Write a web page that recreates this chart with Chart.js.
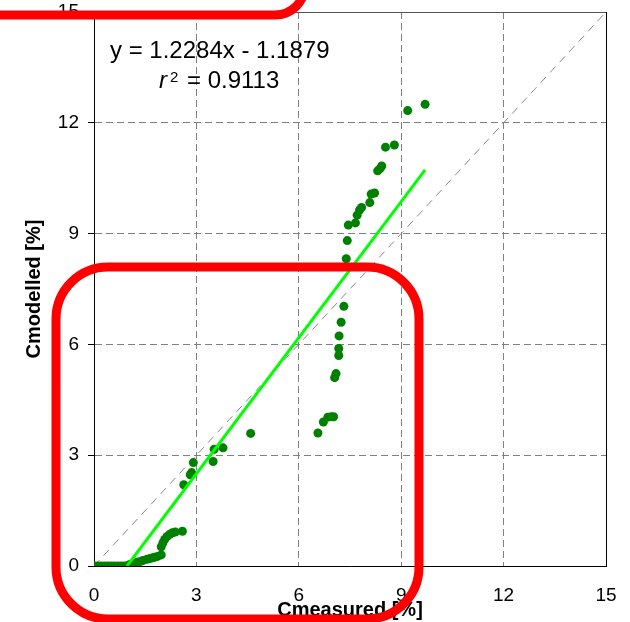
<!DOCTYPE html>
<html>
<head>
<meta charset="utf-8">
<script src="https://cdn.jsdelivr.net/npm/chart.js@4"></script>
<style>
    html, body { margin: 0; padding: 0; background: #fff; }
    #wrap { width: 630px; height: 622px; }
</style>
</head>
<body>
<div id="wrap"><canvas id="chart" width="630" height="622"></canvas></div>
<script>
// measured vs modelled concentration [%]
var measured = [
    0, 0.1, 0.2, 0.3, 0.4, 0.5, 0.6, 0.7, 0.8, 0.9, 1.0,
    1.05, 1.15, 1.26, 1.35, 1.43, 1.55, 1.64, 1.72, 1.78, 1.86, 1.97,
    1.97, 2.02, 2.07, 2.14, 2.22, 2.3, 2.38, 2.59,
    2.63, 2.82, 2.86, 2.91, 3.49, 3.52, 3.78, 4.59,
    6.56, 6.72, 6.85, 6.95, 7.02, 7.05, 7.09, 7.17, 7.17, 7.18, 7.24, 7.32,
    7.39, 7.42, 7.45, 7.66, 7.71, 7.78, 7.84, 8.08, 8.12, 8.22, 8.31, 8.38, 8.43,
    8.54, 8.8, 9.19, 9.7
];
var modelled = [
    0, 0, 0, 0, 0, 0, 0, 0, 0, 0, 0.01,
    0.04, 0.07, 0.1, 0.12, 0.15, 0.18, 0.2, 0.22, 0.24, 0.26, 0.3,
    0.52, 0.63, 0.72, 0.8, 0.86, 0.9, 0.92, 0.94,
    2.2, 2.47, 2.53, 2.8, 2.83, 3.16, 3.2, 3.59,
    3.6, 3.9, 4.03, 4.04, 4.04, 5.1, 5.21, 5.7, 5.89, 6.23, 6.6, 7.03,
    8.32, 8.81, 9.23, 9.29, 9.5, 9.64, 9.71, 9.84, 10.07, 10.1, 10.7, 10.76, 10.83,
    11.34, 11.4, 12.33, 12.5
];
var slope = 1.2284;
var intercept = -1.1879;
var fitX = [0.967, 9.7];
var axisTicks = [0, 3, 6, 9, 12, 15];
var eqText = 'y = 1.2284x - 1.1879';
var r2Text = '= 0.9113';

var FONT = '"Liberation Sans", Arial, sans-serif';

function pairs(xs, ys) {
    return xs.map(function(x, i) { return { x: x, y: ys[i] }; });
}

function fixedTicks(s) {
    s.ticks = axisTicks.map(function(v) { return { value: v }; });
}

var overlay = {
    id: 'overlay',
    afterDraw: function(chart) {
        var ctx = chart.ctx;
        var a = chart.chartArea;
        ctx.save();
        // plot area frame, top and right
        ctx.lineWidth = 1;
        ctx.strokeStyle = '#555';
        ctx.beginPath();
        ctx.moveTo(a.left, a.top + 0.5);
        ctx.lineTo(a.right, a.top + 0.5);
        ctx.stroke();
        ctx.strokeStyle = '#000';
        ctx.beginPath();
        ctx.moveTo(a.right + 0.5, a.top);
        ctx.lineTo(a.right + 0.5, a.bottom);
        ctx.stroke();

        // regression text
        ctx.fillStyle = '#000';
        ctx.textBaseline = 'alphabetic';
        ctx.textAlign = 'left';
        ctx.font = '24px ' + FONT;
        ctx.fillText(eqText, 110, 58);
        ctx.font = 'italic 24px ' + FONT;
        ctx.fillText('r', 159, 88);
        ctx.font = '15px ' + FONT;
        ctx.fillText('2', 170, 82);
        ctx.font = '24px ' + FONT;
        ctx.fillText(r2Text, 187, 88);

        // red highlight boxes
        ctx.strokeStyle = '#ff0000';
        ctx.lineWidth = 9;
        ctx.beginPath();
        ctx.roundRect(-40, -80, 345, 95, 30);
        ctx.stroke();
        ctx.beginPath();
        ctx.roundRect(56, 267, 363, 352, 52);
        ctx.stroke();
        ctx.restore();
    }
};

new Chart(document.getElementById('chart'), {
    type: 'scatter',
    data: {
        datasets: [
            {
                label: 'fit',
                data: fitX.map(function(x) { return { x: x, y: slope * x + intercept }; }),
                showLine: true,
                borderColor: '#00ff00',
                borderWidth: 3,
                pointRadius: 0,
                order: 0
            },
            {
                label: 'Cmodelled',
                data: pairs(measured, modelled),
                backgroundColor: '#008000',
                borderWidth: 0,
                pointRadius: 4.5,
                order: 1
            },
            {
                label: '1:1',
                data: [{ x: 0, y: 0 }, { x: 15, y: 15 }],
                showLine: true,
                borderColor: '#8a8a8a',
                borderWidth: 1,
                borderDash: [8, 6],
                pointRadius: 0,
                order: 2
            }
        ]
    },
    options: {
        responsive: false,
        animation: false,
        devicePixelRatio: 1,
        layout: { padding: { top: 12, right: 24, left: 0, bottom: 0 } },
        plugins: { legend: { display: false }, tooltip: { enabled: false } },
        scales: {
            x: {
                min: 0, max: 15,
                afterFit: function(s) { s.height = 56; s.paddingLeft = 0; s.paddingRight = 0; },
                afterBuildTicks: fixedTicks,
                ticks: { color: '#000', padding: 18, font: { family: FONT, size: 19 } },
                grid: { color: '#808080', lineWidth: 1, drawTicks: false },
                border: { display: true, color: '#000', width: 1, dash: [7, 4] },
                title: {
                    display: true, text: 'Cmeasured [%]', color: '#000',
                    padding: { top: 0, bottom: 0 },
                    font: { family: FONT, size: 20, weight: 'bold' }
                }
            },
            y: {
                min: 0, max: 15,
                afterFit: function(s) { s.width = 94; s.paddingTop = 0; s.paddingBottom = 0; },
                afterBuildTicks: fixedTicks,
                ticks: { color: '#000', padding: 9, font: { family: FONT, size: 19 } },
                grid: { color: '#808080', lineWidth: 1, drawTicks: true, tickLength: 6, tickColor: '#000', tickBorderDash: [] },
                border: { display: true, color: '#000', width: 1, dash: [7, 4] },
                title: {
                    display: true, text: 'Cmodelled [%]', color: '#000',
                    padding: { top: 22, bottom: 0 },
                    font: { family: FONT, size: 20, weight: 'bold' }
                }
            }
        }
    },
    plugins: [overlay]
});
</script>
</body>
</html>
